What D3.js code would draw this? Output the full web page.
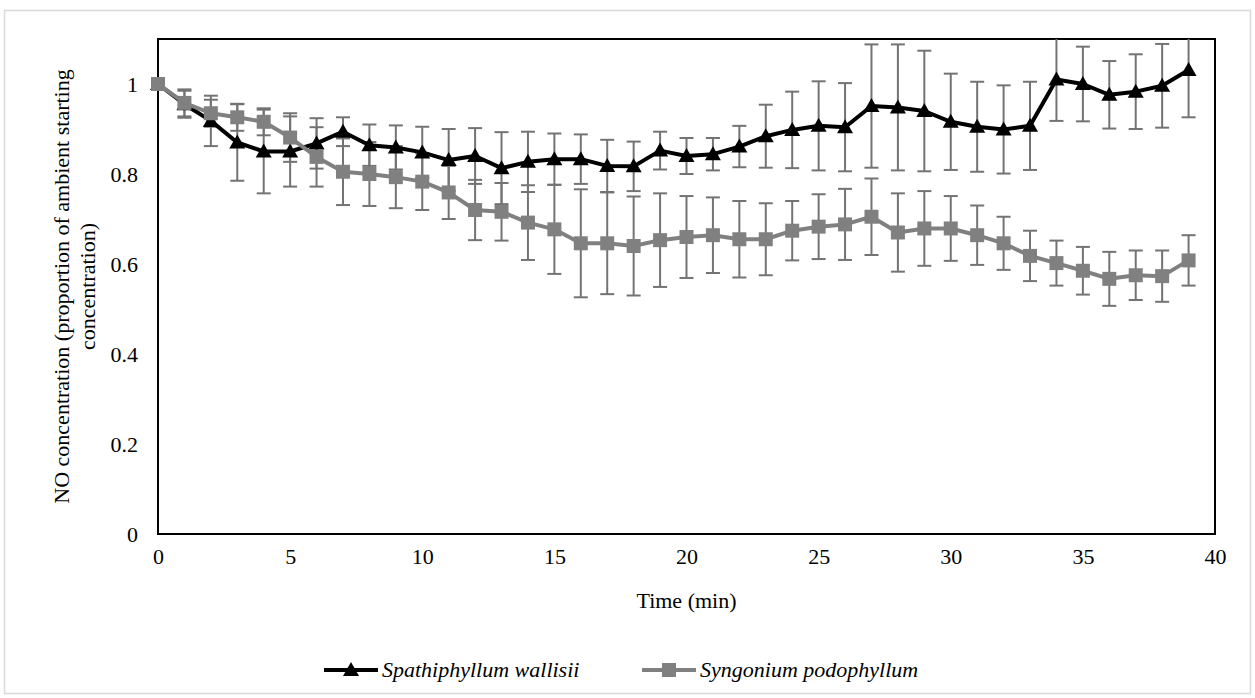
<!DOCTYPE html>
<html>
<head>
<meta charset="utf-8">
<script src="https://cdn.jsdelivr.net/npm/d3@7"></script>
<style>
  body { margin: 0; background: #fff; }
  svg text { font-family: "Liberation Serif", "Times New Roman", serif; }
</style>
</head>
<body>
<svg id="chart" width="1255" height="698"></svg>
<script>
// time points (min)
const minutes = d3.range(0, 40);

const xTicks = [0, 5, 10, 15, 20, 25, 30, 35, 40];
const yTicks = [0, 0.2, 0.4, 0.6, 0.8, 1];

// Spathiphyllum wallisii
const spathMean = [1.0, 0.955, 0.918, 0.870, 0.850, 0.850, 0.868, 0.894, 0.864, 0.859,
  0.848, 0.831, 0.840, 0.813, 0.827, 0.833, 0.833, 0.818, 0.817, 0.852,
  0.840, 0.844, 0.861, 0.884, 0.898, 0.907, 0.904, 0.951, 0.948, 0.940,
  0.916, 0.905, 0.899, 0.907, 1.010, 1.000, 0.976, 0.983, 0.996, 1.031];
const spathErr = [0, 0.030, 0.056, 0.085, 0.093, 0.078, 0.056, 0.032, 0.046, 0.049,
  0.057, 0.069, 0.062, 0.080, 0.067, 0.057, 0.055, 0.058, 0.055, 0.042,
  0.040, 0.036, 0.046, 0.070, 0.085, 0.099, 0.098, 0.137, 0.140, 0.134,
  0.107, 0.100, 0.098, 0.098, 0.092, 0.083, 0.075, 0.083, 0.093, 0.105];

// Syngonium podophyllum
const syngMean = [1.0, 0.958, 0.935, 0.926, 0.916, 0.881, 0.838, 0.805, 0.800, 0.793,
  0.783, 0.759, 0.720, 0.716, 0.692, 0.677, 0.646, 0.646, 0.640, 0.653,
  0.660, 0.664, 0.655, 0.655, 0.674, 0.683, 0.688, 0.705, 0.670, 0.679,
  0.679, 0.664, 0.646, 0.618, 0.602, 0.585, 0.567, 0.575, 0.573, 0.608];
const syngErr = [0, 0.030, 0.030, 0.030, 0.030, 0.054, 0.066, 0.074, 0.071, 0.069,
  0.063, 0.059, 0.067, 0.064, 0.083, 0.099, 0.120, 0.113, 0.110, 0.104,
  0.091, 0.084, 0.085, 0.080, 0.066, 0.072, 0.079, 0.085, 0.087, 0.083,
  0.072, 0.066, 0.059, 0.056, 0.050, 0.053, 0.060, 0.055, 0.057, 0.056];

const seriesNames = ["Spathiphyllum wallisii", "Syngonium podophyllum"];

const svg = d3.select("#chart");
const plotLeft = 158, plotRight = 1215, plotTop = 39, plotBottom = 534;

const x = d3.scaleLinear().domain([0, 40]).range([plotLeft, plotRight]);
const y = d3.scaleLinear().domain([0, 1.1]).range([plotBottom, plotTop]);

// outer chart frame
svg.append("rect")
    .attr("x", 4.5).attr("y", 10.5)
    .attr("width", 1246).attr("height", 683)
    .attr("fill", "none")
    .attr("stroke", "#d9d9d9")
    .attr("stroke-width", 1.5);

svg.append("clipPath").attr("id", "plot-clip")
  .append("rect")
    .attr("x", plotLeft).attr("y", plotTop)
    .attr("width", plotRight - plotLeft).attr("height", plotBottom - plotTop);

// axes, labels only (no tick marks)
const xAxis = svg.append("g")
    .attr("transform", "translate(0," + plotBottom + ")")
    .call(d3.axisBottom(x).tickValues(xTicks).tickSize(0).tickPadding(14));
const yAxis = svg.append("g")
    .attr("transform", "translate(" + plotLeft + ",0)")
    .call(d3.axisLeft(y).tickValues(yTicks).tickSize(0).tickPadding(20)
      .tickFormat(d => d === 0 || d === 1 ? String(d) : d3.format(".1f")(d)));
[xAxis, yAxis].forEach(a => {
  a.attr("font-family", null).attr("font-size", null);
  a.select(".domain").remove();
  a.selectAll("text")
    .attr("font-size", "22px")
    .attr("fill", "#000");
});

// plot border
svg.append("rect")
    .attr("x", plotLeft).attr("y", plotTop)
    .attr("width", plotRight - plotLeft).attr("height", plotBottom - plotTop)
    .attr("fill", "none")
    .attr("stroke", "#000")
    .attr("stroke-width", 2);

const plot = svg.append("g").attr("clip-path", "url(#plot-clip)");
const markers = svg.append("g");

function drawSeries(mean, err, color, shape) {
  const data = minutes.map((t, i) => ({t: t, v: mean[i], e: err[i]}));
  const layer = plot.append("g");
  const front = markers.append("g");

  const bars = layer.selectAll("g")
    .data(data.filter(d => d.e > 0))
    .enter().append("g")
      .attr("stroke", "#737373")
      .attr("stroke-width", 2);
  bars.append("line")
      .attr("x1", d => x(d.t)).attr("x2", d => x(d.t))
      .attr("y1", d => y(d.v - d.e)).attr("y2", d => y(d.v + d.e));
  bars.append("line")
      .attr("x1", d => x(d.t) - 7).attr("x2", d => x(d.t) + 7)
      .attr("y1", d => y(d.v + d.e)).attr("y2", d => y(d.v + d.e));
  bars.append("line")
      .attr("x1", d => x(d.t) - 7).attr("x2", d => x(d.t) + 7)
      .attr("y1", d => y(d.v - d.e)).attr("y2", d => y(d.v - d.e));

  front.append("path")
      .datum(data)
      .attr("fill", "none")
      .attr("stroke", color)
      .attr("stroke-width", 4)
      .attr("stroke-linejoin", "round")
      .attr("d", d3.line().x(d => x(d.t)).y(d => y(d.v)));

  front.append("g").selectAll("path")
    .data(data)
    .enter().append("path")
      .attr("transform", d => "translate(" + x(d.t) + "," + y(d.v) + ")")
      .attr("d", shape)
      .attr("fill", color);
}

const triangle = "M0,-8L8,6L-8,6Z";
const square = "M-7,-7H7V7H-7Z";

drawSeries(spathMean, spathErr, "#000", triangle);
drawSeries(syngMean, syngErr, "#808080", square);

// axis titles
svg.append("text")
    .attr("x", (plotLeft + plotRight) / 2)
    .attr("y", 608)
    .attr("text-anchor", "middle")
    .attr("font-size", "22px")
    .text("Time (min)");

const yTitle = svg.append("text")
    .attr("transform", "translate(62," + ((plotTop + plotBottom) / 2) + ") rotate(-90)")
    .attr("text-anchor", "middle")
    .attr("font-size", "22px");
yTitle.append("tspan").attr("x", 0).attr("dy", 7)
    .text("NO concentration (proportion of ambient starting");
yTitle.append("tspan").attr("x", 0).attr("dy", 26)
    .text("concentration)");

// legend
const legendItems = [
  {name: seriesNames[0], color: "#000", shape: triangle, x0: 324},
  {name: seriesNames[1], color: "#808080", shape: square, x0: 642}
];
const legend = svg.append("g").attr("transform", "translate(0,670)");
const items = legend.selectAll("g")
  .data(legendItems)
  .enter().append("g")
    .attr("transform", d => "translate(" + d.x0 + ",0)");
items.append("line")
    .attr("x1", 0).attr("x2", 54)
    .attr("stroke", d => d.color)
    .attr("stroke-width", 4);
items.append("path")
    .attr("transform", "translate(27,0)")
    .attr("d", d => d.shape)
    .attr("fill", d => d.color);
items.append("text")
    .attr("x", 58)
    .attr("y", 7)
    .attr("font-size", "22px")
    .attr("font-style", "italic")
    .text(d => d.name);
</script>
</body>
</html>
